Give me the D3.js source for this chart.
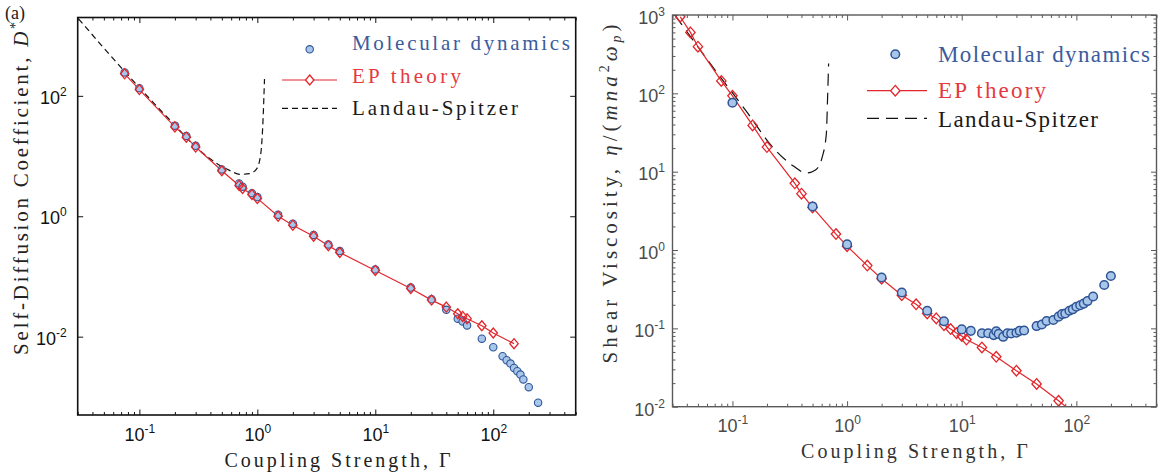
<!DOCTYPE html>
<html>
<head>
<meta charset="utf-8">
<script src="https://cdn.jsdelivr.net/npm/d3@7"></script>
<style>
body { margin: 0; background: #fff; }
svg { display: block; }
</style>
</head>
<body>
<div id="chart"></div>
<script>
// ----------------------------------------------------------
// DATA -----------------------------------------------------
// ----------------------------------------------------------
// panel (a): self-diffusion coefficient
var gamma_md_a = [0.075, 0.1, 0.2, 0.25, 0.3, 0.5, 0.7, 0.75, 0.9, 1, 1.5, 2, 3, 4, 5, 10, 20, 30, 40, 50, 55, 60, 80, 100, 120, 130, 140, 150, 160, 170, 180, 200, 240];
var d_md_a = [245, 134, 32, 21.6, 14.8, 6.0, 3.5, 3.1, 2.42, 2.08, 1.06, 0.75, 0.49, 0.34, 0.264, 0.131, 0.0655, 0.0418, 0.0279, 0.0199, 0.0179, 0.0154, 0.00927, 0.00667, 0.00473, 0.00407, 0.00358, 0.00303, 0.00267, 0.00235, 0.00195, 0.00145, 0.0008];
var gamma_ep_a = [0.075, 0.1, 0.2, 0.25, 0.3, 0.5, 0.7, 0.75, 0.9, 1, 1.5, 2, 3, 4, 5, 10, 20, 30, 40, 50, 55, 60, 80, 100, 150];
var d_ep_a = [232, 127, 30.5, 20.6, 14.1, 5.7, 3.25, 2.9, 2.3, 1.98, 1.0, 0.71, 0.465, 0.325, 0.25, 0.126, 0.0632, 0.0405, 0.031, 0.024, 0.0217, 0.0199, 0.0152, 0.0115, 0.00766];
var gamma_ls_a = [0.0305, 0.077, 0.183, 0.35, 0.58, 0.72, 0.86, 0.99, 1.07, 1.12, 1.15];
var d_ls_a = [1900, 240, 39, 10.9, 5.78, 4.97, 5.1, 6.2, 11, 44, 190];

// panel (b): shear viscosity
var gamma_md_b = [0.1, 0.5, 1, 2, 3, 5, 7, 10, 12, 15, 17, 19, 20, 21, 23, 25, 27, 30, 32, 35, 45, 50, 55, 63, 70, 75, 80, 87, 93, 100, 108, 116, 125, 140, 175, 200];
var eta_md_b = [76, 3.6, 1.18, 0.446, 0.287, 0.168, 0.123, 0.097, 0.093, 0.0865, 0.0865, 0.082, 0.092, 0.085, 0.078, 0.0865, 0.086, 0.088, 0.093, 0.094, 0.107, 0.112, 0.124, 0.128, 0.141, 0.152, 0.155, 0.168, 0.175, 0.189, 0.197, 0.207, 0.223, 0.255, 0.358, 0.466];
var gamma_ep_b = [0.035, 0.043, 0.05, 0.08, 0.1, 0.15, 0.2, 0.35, 0.4, 0.5, 0.8, 1, 1.5, 2, 3, 4, 5, 6, 7, 8, 9, 10, 11, 15, 20, 30, 45, 70, 100];
var eta_ep_b = [950, 600, 394, 144, 93, 39, 20.6, 7.1, 5.24, 3.5, 1.6, 1.12, 0.633, 0.43, 0.265, 0.203, 0.155, 0.134, 0.11, 0.098, 0.087, 0.08, 0.072, 0.057, 0.0434, 0.0288, 0.0195, 0.0119, 0.0078];
var gamma_ls_b = [0.0315, 0.067, 0.13, 0.236, 0.34, 0.44, 0.53, 0.61, 0.66, 0.675, 0.69];
var eta_ls_b = [1000, 219, 61, 18.9, 11.8, 9.6, 10.5, 15.8, 31, 82, 240];

// tick labels and legend
var ticks_x = [0.1, 1, 10, 100];
var ticks_y_a = [1e-2, 1, 1e2];
var ticks_y_b = [1e-2, 1e-1, 1, 10, 100, 1000];
var legend_labels = ["Molecular dynamics", "EP theory", "Landau-Spitzer"];

// ----------------------------------------------------------
// SETUP ----------------------------------------------------
// ----------------------------------------------------------
var serif = "'Liberation Serif', 'DejaVu Serif', serif";
var sans = "'Liberation Sans', Arial, sans-serif";
var color_md_fill = "#a7c6ea";
var color_md_stroke = "#2f5597";
var color_ep = "#e3262b";

var panel_a = {
  id: "a", x0: 77.7, x1: 575.7, y0: 17.5, y1: 415,
  xdom: [0.03, 500], ydom: [5e-4, 2e3],
  axis_color: "#111", tick_color: "#111", frame_width: 1.6,
  ticks_y: ticks_y_a, minor_y: false,
  r: 3.7, md_stroke: 1.1, dw: 4.2, dh: 5.0, dash: "6,4", ep_on_top: true,
  xlab_y: 441, ylab_dx: -11, ylab_dy: 7.5,
  legend: { mx: 309.7, lx0: 282, lx1: 337, tx: 352, size: 21,
            my: [49.3, 80, 108.3], ty: [49.5, 82.7, 115], widths: [218, 109, 166] },
  xtitle: { x: 339, y: 467, w: 226 },
  ytitle: { x: 28, y: 187, w: 333 }
};
var panel_b = {
  id: "b", x0: 672.5, x1: 1156.5, y0: 15, y1: 406.7,
  xdom: [0.03, 500], ydom: [0.01, 1000],
  axis_color: "#5a5a5a", tick_color: "#4a4a4a", frame_width: 1.4,
  ticks_y: ticks_y_b, minor_y: true,
  r: 4.3, md_stroke: 1.5, dw: 4.7, dh: 5.3, dash: "12,7", ep_on_top: false,
  xlab_y: 432, ylab_dx: -7.5, ylab_dy: 8.3,
  legend: { mx: 895.3, lx0: 867, lx1: 927, tx: 938, size: 23,
            my: [54.3, 90.7, 118.3], ty: [61.7, 98.3, 126.7], widths: [212, 108, 160] },
  xtitle: { x: 916, y: 458, w: 227 },
  ytitle: { x: 617, y: 192, w: 339 }
};

var svg = d3.select("#chart").append("svg")
  .attr("width", 1158)
  .attr("height", 473);

function isDecade(d) {
  var e = Math.log10(d);
  return Math.abs(e - Math.round(e)) < 1e-6;
}

function diamond(cx, cy, w, h) {
  return "M" + cx + "," + (cy - h) + "L" + (cx + w) + "," + cy + "L" + cx + "," + (cy + h) + "L" + (cx - w) + "," + cy + "Z";
}

// stretch a text to a measured width with letter spacing
function fitWidth(sel, target) {
  var n = sel.text().length;
  var w = sel.node().getComputedTextLength();
  sel.attr("letter-spacing", ((target - w) / (n - 1)).toFixed(2));
}

function powLabel(text) {
  text.each(function(d) {
    var t = d3.select(this).text(null);
    t.append("tspan").text("10");
    t.append("tspan").attr("font-size", 12).attr("dy", -8).text(Math.round(Math.log10(d)));
  });
}

// ----------------------------------------------------------
// PANEL ----------------------------------------------------
// ----------------------------------------------------------
function drawPanel(p, gx_md, gy_md, gx_ep, gy_ep, gx_ls, gy_ls) {
  var x = d3.scaleLog().domain(p.xdom).range([p.x0, p.x1]);
  var y = d3.scaleLog().domain(p.ydom).range([p.y1, p.y0]);
  var g = svg.append("g").attr("class", "panel_" + p.id);

  // clip
  g.append("clipPath").attr("id", "clip_" + p.id)
    .append("rect")
    .attr("x", p.x0).attr("y", p.y0)
    .attr("width", p.x1 - p.x0).attr("height", p.y1 - p.y0);

  // ticks ------------------------------------------------
  var minor_x = x.ticks().filter(function(d) { return !isDecade(d); });
  var minor_y = p.minor_y ? y.ticks().filter(function(d) { return !isDecade(d); }) : [];

  function tickAxis(axis, tx, ty, vals, size) {
    var a = g.append("g")
      .attr("transform", "translate(" + tx + "," + ty + ")")
      .call(axis.tickValues(vals).tickSize(-size).tickSizeOuter(0).tickFormat(""));
    a.select(".domain").remove();
    a.selectAll("line").attr("stroke", p.axis_color).attr("stroke-width", 1);
    return a;
  }
  tickAxis(d3.axisBottom(x), 0, p.y1, minor_x, 3);
  tickAxis(d3.axisTop(x), 0, p.y0, minor_x, 3);
  tickAxis(d3.axisLeft(y), p.x0, 0, minor_y, 3);
  tickAxis(d3.axisRight(y), p.x1, 0, minor_y, 3);
  var bx = tickAxis(d3.axisBottom(x), 0, p.y1, ticks_x, 5.5);
  tickAxis(d3.axisTop(x), 0, p.y0, ticks_x, 5.5);
  var ly = tickAxis(d3.axisLeft(y), p.x0, 0, p.ticks_y, 5.5);
  tickAxis(d3.axisRight(y), p.x1, 0, p.ticks_y, 5.5);

  bx.selectAll(".tick text")
    .attr("y", p.xlab_y - p.y1).attr("dy", null)
    .attr("font-family", sans).attr("font-size", 18)
    .attr("fill", p.tick_color)
    .call(powLabel);
  ly.selectAll(".tick text")
    .attr("x", p.ylab_dx).attr("dy", null).attr("y", p.ylab_dy)
    .attr("text-anchor", "end")
    .attr("font-family", sans).attr("font-size", 18)
    .attr("fill", p.tick_color)
    .call(powLabel);

  // gfx --------------------------------------------------
  var plot = g.append("g").attr("clip-path", "url(#clip_" + p.id + ")");
  var line = d3.line()
    .x(function(d) { return x(d[0]); })
    .y(function(d) { return y(d[1]); });

  plot.append("path")
    .datum(d3.zip(gx_ls, gy_ls))
    .attr("d", line.curve(d3.curveMonotoneX))
    .attr("fill", "none")
    .attr("stroke", "#111")
    .attr("stroke-width", 1.2)
    .attr("stroke-dasharray", p.dash);

  plot.append("path")
    .datum(d3.zip(gx_ep, gy_ep))
    .attr("d", line.curve(d3.curveLinear))
    .attr("fill", "none")
    .attr("stroke", color_ep)
    .attr("stroke-width", 1.2);

  function drawMD() {
    plot.append("g").selectAll("circle")
      .data(d3.zip(gx_md, gy_md))
      .enter().append("circle")
      .attr("cx", function(d) { return x(d[0]); })
      .attr("cy", function(d) { return y(d[1]); })
      .attr("r", p.r)
      .attr("fill", color_md_fill)
      .attr("stroke", color_md_stroke)
      .attr("stroke-width", p.md_stroke);
  }
  function drawEP() {
    plot.append("g").selectAll("path")
      .data(d3.zip(gx_ep, gy_ep))
      .enter().append("path")
      .attr("d", function(d) { return diamond(x(d[0]), y(d[1]), p.dw, p.dh); })
      .attr("fill", "none")
      .attr("stroke", color_ep)
      .attr("stroke-width", 1.3);
  }
  if (p.ep_on_top) { drawMD(); drawEP(); } else { drawEP(); drawMD(); }

  // frame
  g.append("rect")
    .attr("x", p.x0).attr("y", p.y0)
    .attr("width", p.x1 - p.x0).attr("height", p.y1 - p.y0)
    .attr("fill", "none")
    .attr("stroke", p.axis_color)
    .attr("stroke-width", p.frame_width);

  // legend -----------------------------------------------
  var L = p.legend;
  var leg = g.append("g").attr("class", "legend");
  leg.append("circle")
    .attr("cx", L.mx).attr("cy", L.my[0]).attr("r", p.r)
    .attr("fill", color_md_fill).attr("stroke", color_md_stroke).attr("stroke-width", p.md_stroke);
  leg.append("line")
    .attr("x1", L.lx0).attr("x2", L.lx1).attr("y1", L.my[1]).attr("y2", L.my[1])
    .attr("stroke", color_ep).attr("stroke-width", 1.2);
  leg.append("path")
    .attr("d", diamond(L.mx, L.my[1], p.dw, p.dh))
    .attr("fill", "#fff").attr("stroke", color_ep).attr("stroke-width", 1.3);
  leg.append("line")
    .attr("x1", L.lx0).attr("x2", L.lx1).attr("y1", L.my[2]).attr("y2", L.my[2])
    .attr("stroke", "#111").attr("stroke-width", 1.2).attr("stroke-dasharray", p.dash);
  var leg_colors = ["#3b5c9c", "#e43a3e", "#1a1a1a"];
  legend_labels.forEach(function(s, i) {
    var t = leg.append("text")
      .attr("x", L.tx).attr("y", L.ty[i])
      .attr("font-family", serif).attr("font-size", L.size)
      .attr("fill", leg_colors[i])
      .text(s);
    fitWidth(t, L.widths[i]);
  });

  return g;
}

var g_a = drawPanel(panel_a, gamma_md_a, d_md_a, gamma_ep_a, d_ep_a, gamma_ls_a, d_ls_a);
var g_b = drawPanel(panel_b, gamma_md_b, eta_md_b, gamma_ep_b, eta_ep_b, gamma_ls_b, eta_ls_b);

// ----------------------------------------------------------
// TEXT -----------------------------------------------------
// ----------------------------------------------------------
[panel_a, panel_b].forEach(function(p) {
  var t = svg.append("text")
    .attr("x", p.xtitle.x).attr("y", p.xtitle.y)
    .attr("text-anchor", "middle")
    .attr("font-family", serif).attr("font-size", 20)
    .attr("fill", p.id == "a" ? "#222" : "#333")
    .text("Coupling Strength, \u0393");
  fitWidth(t, p.xtitle.w);
});

// y title (a)
var yt_a = svg.append("text")
  .attr("transform", "translate(" + panel_a.ytitle.x + "," + panel_a.ytitle.y + ") rotate(-90)")
  .attr("text-anchor", "middle")
  .attr("font-family", serif).attr("font-size", 21)
  .attr("fill", "#222");
yt_a.append("tspan").text("Self-Diffusion Coefficient, ");
yt_a.append("tspan").attr("font-style", "italic").text("D");
yt_a.append("tspan").attr("font-size", 14).attr("dy", -8).text("*");
fitWidth(yt_a, panel_a.ytitle.w);

// y title (b)
var yt_b = svg.append("text")
  .attr("transform", "translate(" + panel_b.ytitle.x + "," + panel_b.ytitle.y + ") rotate(-90)")
  .attr("text-anchor", "middle")
  .attr("font-family", serif).attr("font-size", 21)
  .attr("fill", "#333");
yt_b.append("tspan").text("Shear Viscosity, ");
yt_b.append("tspan").attr("font-style", "italic").text("\u03B7");
yt_b.append("tspan").text("/(");
yt_b.append("tspan").attr("font-style", "italic").text("mna");
yt_b.append("tspan").attr("font-size", 14).attr("dy", -8).text("2");
yt_b.append("tspan").attr("font-style", "italic").attr("dy", 8).text("\u03C9");
yt_b.append("tspan").attr("font-style", "italic").attr("font-size", 14).attr("dy", 4).text("p");
yt_b.append("tspan").attr("dy", -4).text(")");
fitWidth(yt_b, panel_b.ytitle.w);

// panel tag
svg.append("text")
  .attr("x", 5).attr("y", 19)
  .attr("font-family", serif).attr("font-size", 18)
  .attr("fill", "#222")
  .text("(a)");
</script>
</body>
</html>
